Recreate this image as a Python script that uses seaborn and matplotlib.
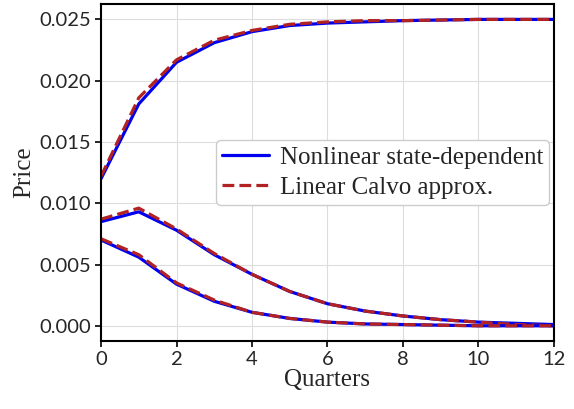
import matplotlib
matplotlib.use("Agg")
import matplotlib.pyplot as plt
import numpy as np
import pandas as pd
import seaborn as sns
from matplotlib.lines import Line2D

quarters = np.arange(0, 13)

# three impulse responses: nonlinear (solid) vs linear Calvo (dashed)
nonlin_high = [0.0120, 0.0181, 0.0215, 0.0231, 0.0240, 0.0245, 0.0247, 0.0248, 0.0249, 0.02495, 0.0250, 0.0250, 0.0250]
linear_high = [0.0122, 0.0186, 0.0217, 0.0233, 0.0241, 0.0246, 0.0248, 0.0249, 0.0249, 0.02495, 0.0250, 0.0250, 0.0250]

nonlin_mid = [0.0085, 0.0093, 0.0078, 0.0058, 0.0042, 0.0028, 0.0018, 0.0012, 0.0008, 0.0005, 0.0003, 0.0002, 0.0001]
linear_mid = [0.0087, 0.0096, 0.0079, 0.0059, 0.0042, 0.0028, 0.0018, 0.0012, 0.0008, 0.0005, 0.0003, 0.0001, 0.0000]

nonlin_low = [0.0070, 0.0056, 0.0034, 0.0020, 0.0011, 0.0006, 0.0003, 0.00015, 0.0001, 0.00005, 0.0000, 0.0000, 0.0000]
linear_low = [0.0071, 0.0058, 0.0035, 0.0021, 0.0011, 0.0006, 0.0003, 0.00015, 0.0001, 0.00005, 0.0000, 0.0000, 0.0000]

BLUE = "#0000ee"
RED = "#b22222"

sns.set_theme(style="whitegrid")
plt.rcParams["font.family"] = ["Lato", "DejaVu Sans"]
SERIF = ["Liberation Serif", "DejaVu Serif"]

fig, ax = plt.subplots(figsize=(5.74, 4.09), dpi=100)

for nl, lin in [(nonlin_high, linear_high), (nonlin_mid, linear_mid), (nonlin_low, linear_low)]:
    sns.lineplot(x=quarters, y=nl, ax=ax, color=BLUE, lw=2.3)
    sns.lineplot(x=quarters, y=lin, ax=ax, color=RED, lw=2.3, linestyle="--")

ax.set_xlim(0, 12)
ax.set_xticks(np.arange(0, 13, 2))
ax.set_yticks(np.arange(0, 0.0251, 0.005))
ax.yaxis.set_major_formatter(matplotlib.ticker.FormatStrFormatter("%.3f"))
ax.grid(color="#dddddd", lw=0.8)
for s in ax.spines.values():
    s.set_color("black")
    s.set_linewidth(1.5)
ax.tick_params(axis="both", which="major", labelsize=14.5, length=4, width=1.2,
               color="black", bottom=True, left=True, pad=3)

ax.set_xlabel("Quarters", fontsize=18, family=SERIF, labelpad=1)
ax.set_ylabel("Price", fontsize=18, family=SERIF, labelpad=3)

handles = [Line2D([], [], color=BLUE, lw=2.3),
           Line2D([], [], color=RED, lw=2.3, linestyle="--")]
ax.legend(handles, ["Nonlinear state-dependent", "Linear Calvo approx."],
          loc="center right", bbox_to_anchor=(0.99, 0.5), borderaxespad=0,
          prop={"family": SERIF, "size": 18},
          frameon=True, framealpha=1.0, edgecolor="#cccccc",
          handlelength=1.85, handletextpad=0.45, borderpad=0.25, labelspacing=0.3)

fig.subplots_adjust(left=0.176, right=0.965, top=0.99, bottom=0.166)
fig.savefig("out.png", dpi=100)
